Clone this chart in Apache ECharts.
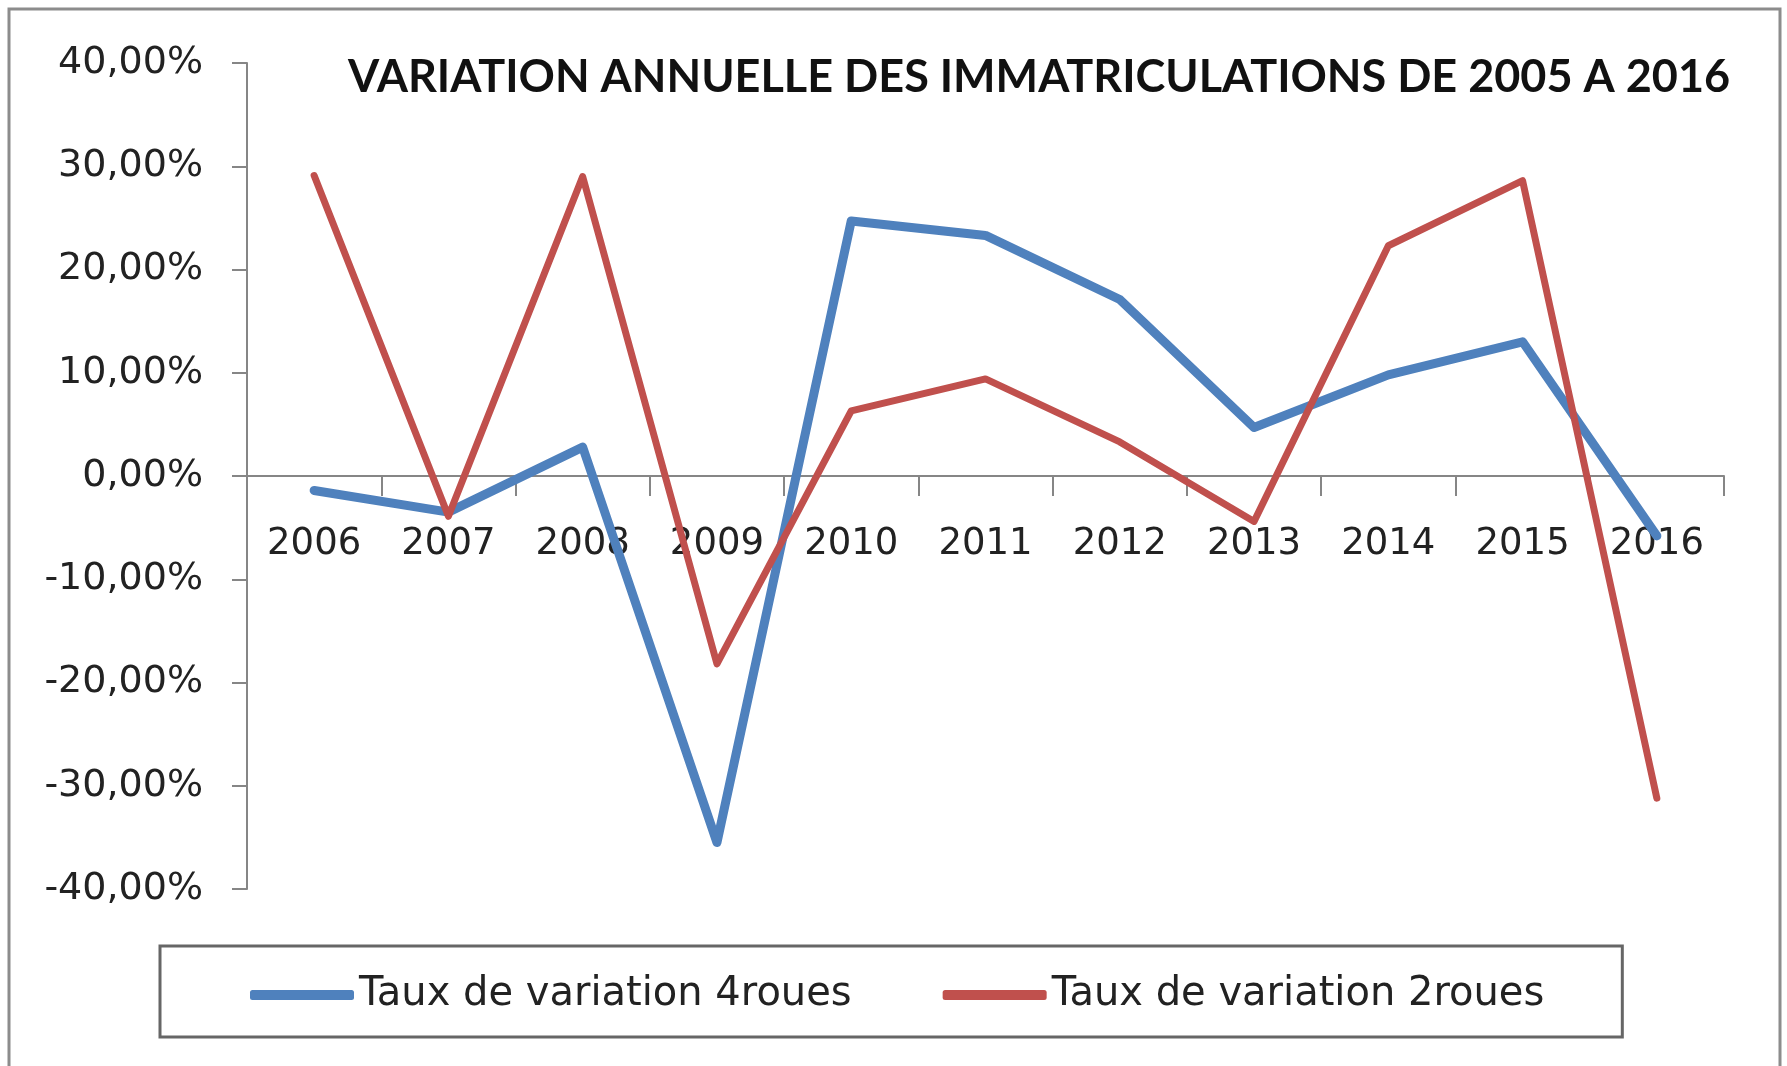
<!DOCTYPE html>
<html>
<head>
<meta charset="utf-8">
<script src="https://cdn.jsdelivr.net/npm/echarts@6/dist/echarts.min.js"></script>
<style>
  html, body { margin: 0; padding: 0; background: #fff; }
  #main { width: 1787px; height: 1066px; }
</style>
</head>
<body>
<div id="main"></div>
<script>
var chartDom = document.getElementById('main');
var myChart = echarts.init(chartDom);

// années (axe des x)
const years = ['2006', '2007', '2008', '2009', '2010', '2011', '2012', '2013', '2014', '2015', '2016'];
// taux de variation en %
const taux4roues = [-1.4, -3.5, 2.8, -35.5, 24.7, 23.3, 17.1, 4.7, 9.8, 13.0, -5.8];
const taux2roues = [29.1, -3.9, 29.0, -18.2, 6.3, 9.4, 3.3, -4.4, 22.3, 28.6, -31.2];
// graduations de l'axe des y
const yMin = -40;
const yMax = 40;
const yStep = 10;

var gridTop = 63;
var gridBottom = 177;
var plotHeight = 1066 - gridTop - gridBottom;
// axe des x placé sur la ligne du zéro (étiquettes comprises)
var zeroOffset = -plotHeight * (0 - yMin) / (yMax - yMin);

var option = {
  backgroundColor: '#ffffff',
  animation: false,
  title: {
    text: 'VARIATION ANNUELLE DES IMMATRICULATIONS DE 2005 A 2016',
    left: 348,
    top: 55,
    padding: 0,
    textStyle: {
      fontFamily: 'Lato',
      fontWeight: 'bold',
      fontSize: 45,
      color: '#111'
    }
  },
  graphic: [
    {
      type: 'rect',
      silent: true,
      z: -1,
      shape: { x: 9, y: 9, width: 1771, height: 1100 },
      style: { fill: 'none', stroke: '#8c8c8c', lineWidth: 3 }
    }
  ],
  legend: {
    left: 160,
    top: 946,
    padding: [29, 78, 22, 90],
    itemGap: 91,
    itemWidth: 104,
    itemHeight: 10,
    icon: 'roundRect',
    borderColor: '#666',
    borderWidth: 3,
    textStyle: {
      fontFamily: 'DejaVu Sans',
      fontSize: 40,
      color: '#222'
    }
  },
  grid: {
    left: 247,
    right: 63,
    top: gridTop,
    bottom: gridBottom
  },
  xAxis: {
    type: 'category',
    data: years,
    boundaryGap: true,
    offset: zeroOffset,
    axisLine: {
      onZero: false,
      lineStyle: { color: '#868686', width: 2 }
    },
    axisTick: {
      show: true,
      length: 20,
      lineStyle: { color: '#868686', width: 2 }
    },
    axisLabel: {
      margin: 50,
      fontFamily: 'DejaVu Sans',
      fontSize: 37,
      color: '#222'
    },
    splitLine: { show: false }
  },
  yAxis: {
    type: 'value',
    min: yMin,
    max: yMax,
    interval: yStep,
    axisLine: {
      show: true,
      lineStyle: { color: '#868686', width: 2 }
    },
    axisTick: {
      show: true,
      length: 15,
      lineStyle: { color: '#868686', width: 2 }
    },
    axisLabel: {
      margin: 44,
      fontFamily: 'DejaVu Sans',
      fontSize: 38,
      color: '#222',
      formatter: function (v) {
        return v.toFixed(2).replace('.', ',') + '%';
      }
    },
    splitLine: { show: false }
  },
  series: [
    {
      name: 'Taux de variation 4roues',
      type: 'line',
      data: taux4roues,
      symbol: 'none',
      color: '#4F81BD',
      lineStyle: { width: 9, color: '#4F81BD', cap: 'round', join: 'round' }
    },
    {
      name: 'Taux de variation 2roues',
      type: 'line',
      data: taux2roues,
      symbol: 'none',
      color: '#C0504D',
      lineStyle: { width: 7, color: '#C0504D', cap: 'round', join: 'round' }
    }
  ]
};

option && myChart.setOption(option);
</script>
</body>
</html>
